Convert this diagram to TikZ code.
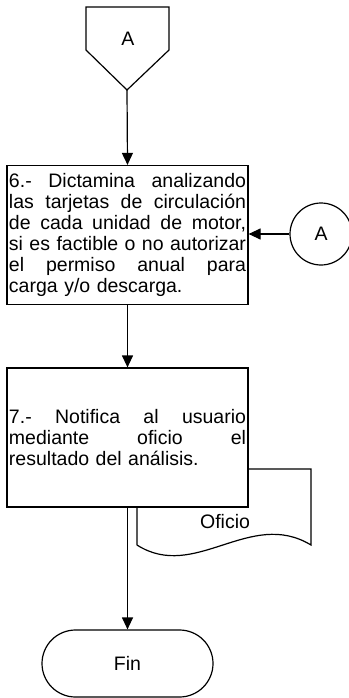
\documentclass[tikz,border=0pt]{standalone}
\usepackage{fontspec}
\setmainfont{Liberation Sans}
\usetikzlibrary{arrows.meta,shapes.misc}
\begin{document}
\begin{tikzpicture}[x=1pt,y=-1pt,
  line width=1.2pt,
  font=\fontsize{19.5}{21}\selectfont,
  flow/.style={-{Triangle[length=12pt,width=11pt]}},
  procbox/.style={draw,fill=white,text width=237pt,inner xsep=2pt,inner ysep=0pt,minimum height=139pt},
  conn/.style={draw,circle,minimum size=62pt,inner sep=0pt},
  term/.style={draw,rounded rectangle,minimum width=171pt,minimum height=67pt,inner sep=0pt}
]
\useasboundingbox (0,0) rectangle (348,698);
% off-page connector
\draw (86,7) -- (169,7) -- (169,50) -- (127,90) -- (86,50) -- cycle;
\node (offA) at (128,39) {A};
\coordinate (offpt) at (127,90);
% document shape (behind box 7)
\draw (137,545) -- (137,469) -- (311,469) -- (311,545)
  .. controls (250,508) and (195,582) .. (137,545);
\node (ofi) at (225,522) {Oficio};
% boxes
\node[procbox] (b6) at (127.5,235) {6.-\hfill Dictamina\hfill analizando\\
las\hfill tarjetas\hfill de\hfill circulación\\
de\hfill cada\hfill unidad\hfill de\hfill motor,\\
si\hfill es\hfill factible\hfill o\hfill no\hfill autorizar\\
el\hfill permiso\hfill anual\hfill para\\
carga y/o descarga.};
\node[procbox] (b7) at (127.5,437.5) {7.-\hfill Notifica\hfill al\hfill usuario\\
mediante\hfill oficio\hfill el\\
resultado del análisis.};
\node[conn] (cA) at (321,234) {A};
\node[term] (fin) at (127.5,663.5) {Fin};
% connectors
\draw[flow] (offpt) -- (b6.north);
\draw[flow] (cA.west) -- (cA.west -| b6.east);
\draw[flow] (b6.south) -- (b7.north);
\draw[flow] (b7.south) -- (fin.north);
\end{tikzpicture}
\end{document}
